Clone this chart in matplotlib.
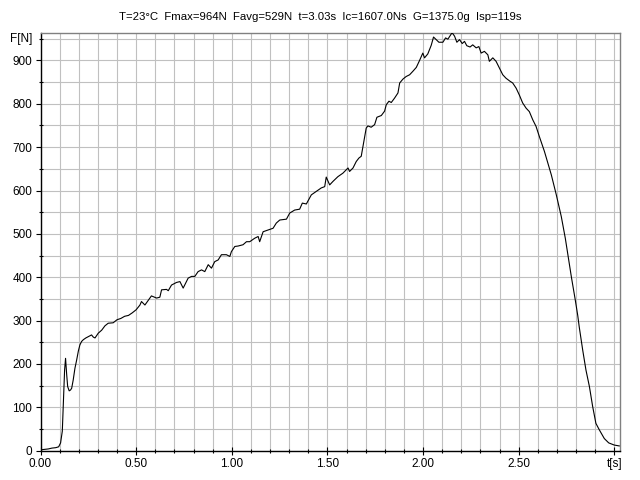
import matplotlib
matplotlib.use("Agg")
import matplotlib.pyplot as plt
from matplotlib.ticker import MultipleLocator

title = "T=23°C  Fmax=964N  Favg=529N  t=3.03s  Ic=1607.0Ns  G=1375.0g  Isp=119s"

time_s = [0.000, 0.020, 0.040, 0.060, 0.080, 0.095, 0.105, 0.114, 0.119, 0.126, 0.131,
          0.137, 0.142, 0.150, 0.157, 0.163, 0.171, 0.180, 0.189, 0.198, 0.206, 0.215,
          0.224, 0.237, 0.250, 0.267, 0.276, 0.285, 0.302, 0.320, 0.337, 0.354, 0.380,
          0.400, 0.420, 0.440, 0.460, 0.480, 0.500, 0.520, 0.528, 0.546, 0.580, 0.607,
          0.624, 0.633, 0.659, 0.668, 0.685, 0.711, 0.729, 0.746, 0.772, 0.790, 0.807,
          0.824, 0.842, 0.859, 0.877, 0.894, 0.911, 0.929, 0.946, 0.972, 0.990, 0.998,
          1.016, 1.033, 1.059, 1.077, 1.094, 1.120, 1.138, 1.146, 1.164, 1.190, 1.216,
          1.233, 1.251, 1.286, 1.303, 1.329, 1.355, 1.369, 1.390, 1.416, 1.442, 1.468,
          1.486, 1.494, 1.512, 1.529, 1.555, 1.581, 1.599, 1.608, 1.616, 1.634, 1.651,
          1.665, 1.677, 1.686, 1.695, 1.703, 1.712, 1.729, 1.747, 1.759, 1.782, 1.799,
          1.808, 1.822, 1.834, 1.851, 1.869, 1.878, 1.895, 1.912, 1.930, 1.947, 1.965,
          1.982, 1.999, 2.008, 2.025, 2.043, 2.055, 2.069, 2.083, 2.104, 2.118, 2.130,
          2.142, 2.152, 2.165, 2.177, 2.191, 2.205, 2.217, 2.229, 2.246, 2.260, 2.278,
          2.292, 2.304, 2.321, 2.339, 2.347, 2.365, 2.382, 2.400, 2.417, 2.434, 2.455,
          2.469, 2.487, 2.504, 2.521, 2.539, 2.556, 2.574, 2.591, 2.608, 2.635, 2.671,
          2.697, 2.723, 2.744, 2.760, 2.776, 2.796, 2.809, 2.817, 2.835, 2.852, 2.870,
          2.887, 2.904, 2.922, 2.948, 2.971, 3.000, 3.026]

force_n = [2, 3, 4, 6, 7, 9, 18, 45, 105, 186, 213,
           175, 148, 138, 140, 144, 163, 190, 209, 230, 244, 252,
           256, 260, 263, 267, 262, 260, 271, 278, 288, 294, 295,
           302, 305, 310, 312, 318, 325, 336, 344, 336, 357, 352,
           354, 371, 372, 369, 382, 388, 390, 375, 398, 402, 402,
           413, 417, 413, 429, 421, 436, 440, 452, 452, 448, 459,
           471, 472, 475, 482, 482, 490, 494, 482, 505, 509, 513,
           525, 532, 534, 548, 555, 557, 571, 569, 590, 598, 606,
           609, 631, 613, 621, 632, 640, 648, 652, 644, 652, 667,
           675, 679, 702, 725, 744, 749, 746, 752, 769, 773, 783,
           798, 806, 803, 813, 825, 848, 857, 863, 867, 875, 884,
           900, 917, 906, 915, 935, 954, 948, 942, 942, 952, 949,
           957, 964, 956, 942, 948, 939, 944, 934, 931, 936, 929,
           932, 917, 921, 913, 898, 906, 898, 882, 867, 859, 852,
           848, 836, 820, 802, 790, 782, 763, 748, 725, 690, 636,
           590, 540, 490, 445, 400, 348, 312, 285, 232, 186, 148,
           102, 63, 48, 28, 18, 13, 11]

x_tick_vals = [0.0, 0.5, 1.0, 1.5, 2.0, 2.5, 3.0]
x_tick_labels = ["0.00", "0.50", "1.00", "1.50", "2.00", "2.50", "t[s]"]
y_tick_vals = [0, 100, 200, 300, 400, 500, 600, 700, 800, 900]

plt.rcParams['font.family'] = ['Liberation Sans Narrow', 'Liberation Sans', 'DejaVu Sans']

fig = plt.figure(figsize=(6.4, 4.8), dpi=100, facecolor='white')
ax = fig.add_axes([40.5/640, 1 - 450.7/480, (620 - 40.5)/640, (450.7 - 32.7)/480])

ax.plot(time_s, force_n, color='black', lw=0.8, zorder=3)

ax.set_xlim(0, 3.03)
ax.set_ylim(0, 964)

ax.xaxis.set_minor_locator(MultipleLocator(0.1))
ax.yaxis.set_minor_locator(MultipleLocator(50))
ax.set_xticks(x_tick_vals)
ax.set_xticklabels(x_tick_labels)
ax.set_yticks(y_tick_vals)
ax.set_yticklabels([str(v) for v in y_tick_vals])

ax.grid(True, which='both', color='#c0c0c0', lw=0.8, zorder=0)
ax.set_axisbelow(True)

ax.tick_params(axis='both', which='major', direction='out', length=3.5, width=0.8,
               color='black', labelsize=8.5, pad=2.5)
ax.tick_params(axis='both', which='minor', direction='inout', length=3.5, width=0.8,
               color='black')
ax.tick_params(axis='x', which='major', direction='inout', length=6, pad=2)

for s in ['left', 'bottom']:
    ax.spines[s].set_color('black')
    ax.spines[s].set_linewidth(1.0)
for s in ['top', 'right']:
    ax.spines[s].set_color('#808080')
    ax.spines[s].set_linewidth(1.0)

ax.text(-0.014, 950, "F[N]", transform=ax.get_yaxis_transform(), ha='right', va='center',
        fontsize=8.5)
fig.text(320/640, 1 - 17/480, title, ha='center', va='center', fontsize=8.2)

fig.savefig("out.png", dpi=100, facecolor='white')
